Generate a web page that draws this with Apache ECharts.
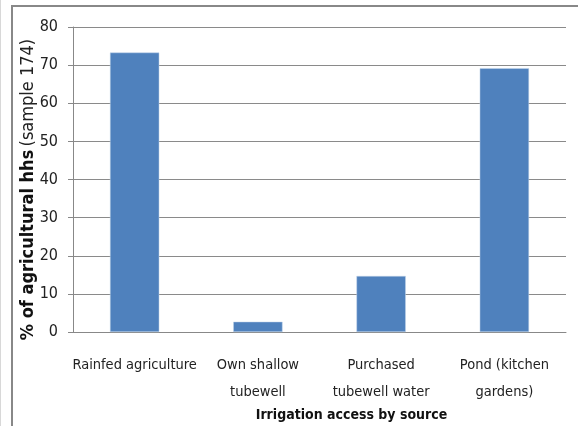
<!DOCTYPE html>
<html><head><meta charset="utf-8">
<script src="https://cdn.jsdelivr.net/npm/echarts@6/dist/echarts.min.js"></script>
<style>html,body{margin:0;padding:0;background:#fff}#c{width:578px;height:426px}</style>
</head><body><div id="c"></div>
<script>
const categories = ['Rainfed agriculture', 'Own shallow\ntubewell', 'Purchased\ntubewell water', 'Pond (kitchen\ngardens)'];
const values = [73.3, 2.7, 14.7, 69.2];
const yTicks = {min: 0, max: 80, interval: 10};
const FONT = '"DejaVu Sans Condensed", "Liberation Sans", sans-serif';
const chart = echarts.init(document.getElementById('c'), null, {renderer: 'canvas'});
chart.setOption({
  animation: false,
  backgroundColor: '#fff',
  graphic: [
    {type: 'rect', z: 100, shape: {x: 0, y: 0, width: 1, height: 426}, style: {fill: '#d8d8d8'}},
    {type: 'rect', z: 100, shape: {x: 11, y: 5, width: 567, height: 2}, style: {fill: '#888'}},
    {type: 'rect', z: 100, shape: {x: 11, y: 5, width: 2, height: 421}, style: {fill: '#888'}}
  ],
  grid: {left: 73, right: 12, top: 27, bottom: 94, containLabel: false, outerBoundsMode: 'none'},
  xAxis: {
    type: 'category', data: categories,
    axisLine: {lineStyle: {color: '#888'}},
    axisTick: {length: 6, lineStyle: {color: '#888'}},
    axisLabel: {fontFamily: FONT, fontSize: 14.5, color: '#222', margin: 20, lineHeight: 27, interval: 0},
    name: 'Irrigation access by source', nameLocation: 'middle', nameGap: 76, nameMoveOverlap: false,
    nameTextStyle: {fontFamily: FONT, fontSize: 14, fontWeight: 'bold', color: '#111', padding: [0, 0, 0, 64]}
  },
  yAxis: {
    type: 'value', min: yTicks.min, max: yTicks.max, interval: yTicks.interval,
    axisLine: {show: true, lineStyle: {color: '#888'}},
    axisTick: {show: true, length: 5, lineStyle: {color: '#888'}},
    splitLine: {lineStyle: {color: '#8a8a8a', width: 1}},
    axisLabel: {fontFamily: FONT, fontSize: 16, color: '#222', margin: 15},
    name: '{b|% of agricultural hhs} {n|(sample 174)}', nameLocation: 'middle', nameGap: 36, nameRotate: 90, nameMoveOverlap: false,
    nameTextStyle: {padding: [0, 20, 0, 0], rich: {
      b: {fontFamily: FONT, fontSize: 18, fontWeight: 'bold', color: '#111'},
      n: {fontFamily: FONT, fontSize: 18, color: '#222'}
    }}
  },
  series: [{
    type: 'bar', data: values, barCategoryGap: '60%',
    itemStyle: {color: '#4F81BD', borderColor: '#c5d6ea', borderWidth: 0.5}
  }]
});
</script></body></html>
